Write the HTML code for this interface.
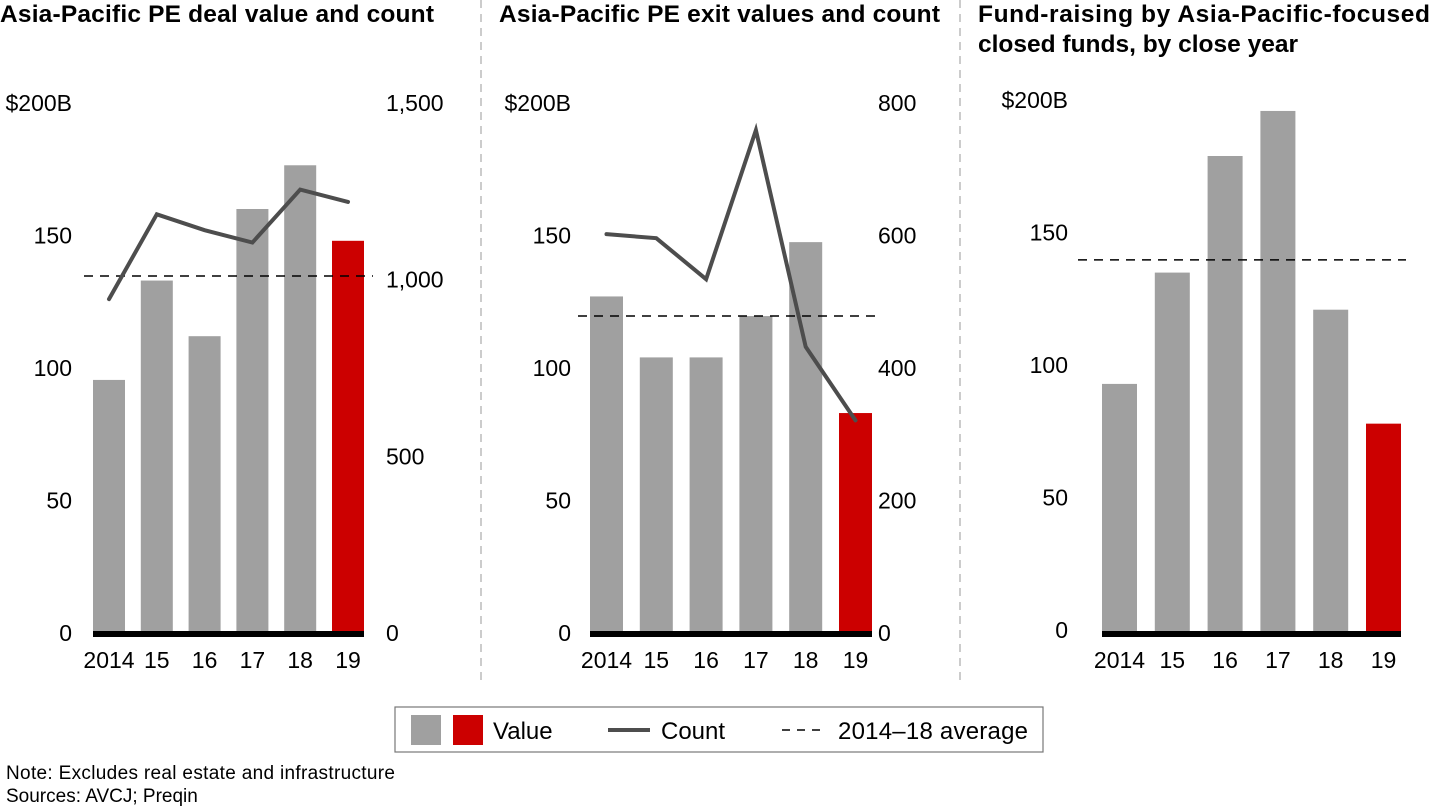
<!DOCTYPE html>
<html><head><meta charset="utf-8"><style>
html,body{margin:0;padding:0;background:#fff;}
svg{display:block;font-family:"Liberation Sans",Arial,sans-serif;}
</style></head><body>
<svg id="chart" width="1440" height="810" viewBox="0 0 1440 810">
<line x1="481" y1="0" x2="481" y2="685" stroke="#bbb" stroke-width="1.5" stroke-dasharray="8,6"/>
<line x1="960" y1="0" x2="960" y2="685" stroke="#bbb" stroke-width="1.5" stroke-dasharray="8,6"/>
<text x="0" y="22" font-size="24.5" font-weight="bold" textLength="434">Asia-Pacific PE deal value and count</text>
<text x="499" y="22" font-size="24.5" font-weight="bold" textLength="441">Asia-Pacific PE exit values and count</text>
<text x="978" y="22" font-size="24.5" font-weight="bold" textLength="452">Fund-raising by Asia-Pacific-focused</text>
<text x="978" y="52" font-size="24.5" font-weight="bold">closed funds, by close year</text>
<g id="p1"></g><g id="p2"></g><g id="p3"></g>
<g>
<rect x="395" y="707" width="648" height="45" fill="#fff" stroke="#777" stroke-width="1.2"/>
<rect x="411" y="715" width="30" height="30" fill="#a0a0a0"/>
<rect x="453" y="715" width="30" height="30" fill="#cc0000"/>
<text x="493" y="739" font-size="24">Value</text>
<line x1="608" y1="730" x2="650" y2="730" stroke="#4d4d4d" stroke-width="4"/>
<text x="661" y="739" font-size="24">Count</text>
<line x1="782" y1="730" x2="826" y2="730" stroke="#000" stroke-width="1.5" stroke-dasharray="8,7"/>
<text x="838" y="739" font-size="24" textLength="190">2014–18 average</text>
</g>
<text x="6" y="779" font-size="19" textLength="389">Note: Excludes real estate and infrastructure</text>
<text x="6" y="802" font-size="19">Sources: AVCJ; Preqin</text>
</svg>
<script>
const years = ["2014","15","16","17","18","19"];
const dealValues = [95.5,133,112,160,176.5,148];
const dealCounts = [945,1185,1140,1105,1255,1220];
const dealAvg = 134.7;
const exitValues = [127,104,104,119.6,147.5,83];
const exitCounts = [602,596,534,759,432,321];
const exitAvg = 119.6;
const fundValues = [94,136,180,197,122,79];
const fundAvg = 140.8;
const leftTicks = ["$200B","150","100","50","0"];
const dealRightTicks = ["1,500","1,000","500","0"];
const exitRightTicks = ["800","600","400","200","0"];

const NS="http://www.w3.org/2000/svg";
function mk(parent,tag,attrs,text){const e=document.createElementNS(NS,tag);for(const k in attrs)e.setAttribute(k,attrs[k]);if(text!==undefined)e.textContent=text;parent.appendChild(e);return e;}
function panel(id,cfg){
  const g=document.getElementById(id);
  const base=633, top=103;
  const yV=v=>base-(v/200)*(base-top);
  const yC=v=>base-(v/cfg.cmax)*(base-top);
  const xC=i=>cfg.x0+i*cfg.pitch+cfg.bw/2;
  leftTicks.forEach((t,i)=>{
    const e=mk(g,'text',{x:cfg.lx,y:yV(200-i*50)+8+cfg.ltoff,'font-size':23,'text-anchor':'end'},t);
    
    
  });
  if(cfg.rticks){
    const n=cfg.rticks.length-1;
    cfg.rticks.forEach((t,i)=>{
      const e=mk(g,'text',{x:cfg.rx,y:yC(cfg.cmax*(n-i)/n)+8,'font-size':23},t);
      
      
    });
  }
  cfg.values.forEach((v,i)=>{
    const r=mk(g,'rect',{x:cfg.x0+i*cfg.pitch,y:yV(v),width:cfg.bw,height:base-yV(v),fill:i===cfg.values.length-1?'#cc0000':'#a0a0a0'});
    
    
    const t=mk(g,'text',{x:xC(i),y:668,'font-size':23,'text-anchor':'middle'},years[i]);
    
    
  });
  const ax=mk(g,'rect',{x:cfg.x0,y:base-2,width:cfg.pitch*5+cfg.bw,height:6,fill:'#000'});
  
  
  const av=mk(g,'line',{x1:cfg.ax1,x2:cfg.ax2,y1:yV(cfg.avg),y2:yV(cfg.avg),stroke:'#000','stroke-width':1.5,'stroke-dasharray':'9,7'});
  
  
  if(cfg.counts){
    const pts=cfg.counts.map((c,i)=>xC(i)+','+yC(c)).join(' ');
    const l=mk(g,'polyline',{points:pts,fill:'none',stroke:'#4d4d4d','stroke-width':4,'stroke-linejoin':'miter','stroke-linecap':'round'});
    
    
  }
}
panel('p1',{x0:93,pitch:47.8,bw:32,values:dealValues,counts:dealCounts,cmax:1500,avg:dealAvg,lx:72,rx:386,ltoff:0,rticks:dealRightTicks,ax1:84,ax2:373});
panel('p2',{x0:590,pitch:49.8,bw:33,values:exitValues,counts:exitCounts,cmax:800,avg:exitAvg,lx:571,rx:878,ltoff:0,rticks:exitRightTicks,ax1:578,ax2:875});
panel('p3',{x0:1102,pitch:52.8,bw:35,values:fundValues,counts:null,avg:fundAvg,lx:1068,ltoff:-3,rticks:null,ax1:1078,ax2:1406});
</script>
</body></html>
